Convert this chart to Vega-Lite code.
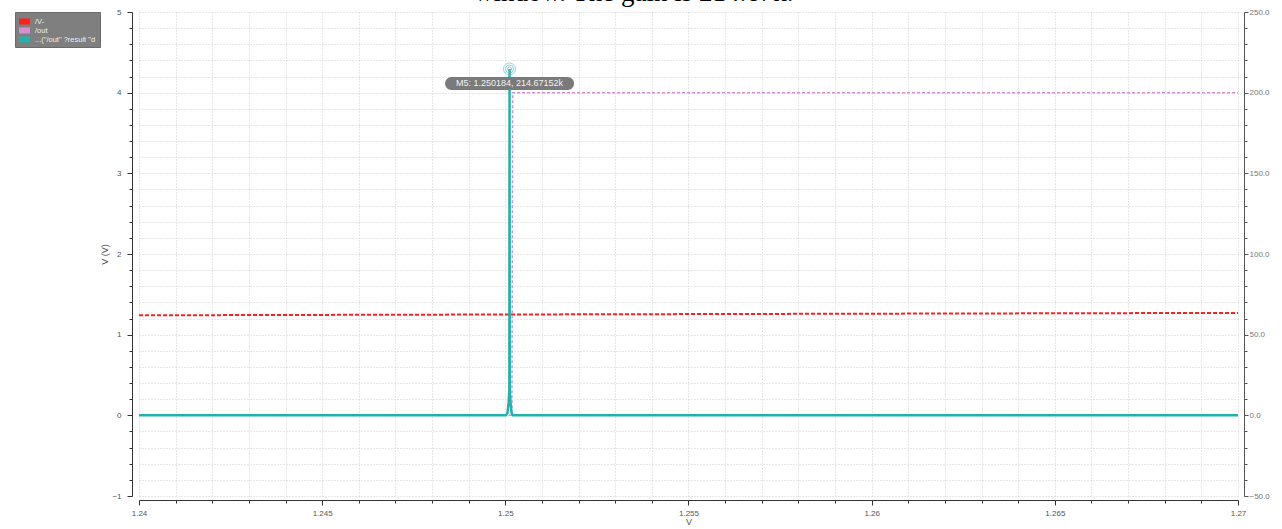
{
  "$schema": "https://vega.github.io/schema/vega-lite/v6.json",
  "autosize": {"type": "none"},
  "width": 1099,
  "height": 484,
  "padding": {"left": 139, "top": 12, "right": 44, "bottom": 33},
  "background": "white",
  "config": {"view": {"stroke": null}, "font": "Liberation Sans"},
  "title": {
    "text": "window. The gain is 214.67k.",
    "anchor": "start",
    "frame": "group",
    "dx": 335,
    "dy": 20,
    "font": "Liberation Serif",
    "fontSize": 27,
    "fontWeight": "normal",
    "color": "#000000",
    "baseline": "alphabetic",
    "offset": 0
  },
  "datasets": {
    "left": [
      {"series": "/V-", "x": 1.24, "v": 1.24},
      {"series": "/V-", "x": 1.245, "v": 1.245},
      {"series": "/V-", "x": 1.25, "v": 1.25},
      {"series": "/V-", "x": 1.255, "v": 1.255},
      {"series": "/V-", "x": 1.26, "v": 1.26},
      {"series": "/V-", "x": 1.265, "v": 1.265},
      {"series": "/V-", "x": 1.27, "v": 1.27},
      {"series": "/out", "x": 1.24, "v": 0},
      {"series": "/out", "x": 1.25018, "v": 0},
      {"series": "/out", "x": 1.2502, "v": 4.0},
      {"series": "/out", "x": 1.27, "v": 4.0}
    ],
    "right": [
      {"series": "...(\"/out\" ?result \"d", "x": 1.24, "v": 0},
      {"series": "...(\"/out\" ?result \"d", "x": 1.25002, "v": 0},
      {"series": "...(\"/out\" ?result \"d", "x": 1.25006, "v": 1.5},
      {"series": "...(\"/out\" ?result \"d", "x": 1.25009, "v": 8},
      {"series": "...(\"/out\" ?result \"d", "x": 1.25011, "v": 16},
      {"series": "...(\"/out\" ?result \"d", "x": 1.250115, "v": 214.67},
      {"series": "...(\"/out\" ?result \"d", "x": 1.25012, "v": 16},
      {"series": "...(\"/out\" ?result \"d", "x": 1.25014, "v": 8},
      {"series": "...(\"/out\" ?result \"d", "x": 1.25017, "v": 1.5},
      {"series": "...(\"/out\" ?result \"d", "x": 1.25021, "v": 0},
      {"series": "...(\"/out\" ?result \"d", "x": 1.27, "v": 0}
    ],
    "marker": [
      {"x": 1.250115, "v": 214.67, "label": "M5: 1.250184, 214.67152k"}
    ]
  },
  "encoding": {
    "x": {
      "field": "x",
      "type": "quantitative",
      "title": "V",
      "scale": {"domain": [1.24, 1.27], "nice": false, "zero": false},
      "axis": {
        "values": [1.24, 1.241, 1.242, 1.243, 1.244, 1.245, 1.246, 1.247, 1.248, 1.249, 1.25, 1.251, 1.252, 1.253, 1.254, 1.255, 1.256, 1.257, 1.258, 1.259, 1.26, 1.261, 1.262, 1.263, 1.264, 1.265, 1.266, 1.267, 1.268, 1.269, 1.27],
        "labelExpr": "abs(datum.value*200 - round(datum.value*200)) < 1e-6 ? format(datum.value, '~g') : ''",
        "tickSize": {"condition": {"test": "abs(datum.value*200 - round(datum.value*200)) < 1e-6", "value": 5}, "value": 3},
        "offset": 4,
        "grid": true,
        "gridDash": [1, 2],
        "gridColor": "#cfcfcf",
        "gridWidth": 1,
        "domainColor": "#333333",
        "tickColor": "#333333",
        "labelColor": "#555555",
        "labelFontSize": 8,
        "labelPadding": 4,
        "labelFlush": false,
        "labelOverlap": false,
        "titleColor": "#555555",
        "titleFontSize": 9,
        "titleFontWeight": "normal",
        "titlePadding": 0
      }
    }
  },
  "layer": [
    {
      "data": {"name": "left"},
      "encoding": {
        "y": {
          "field": "v",
          "type": "quantitative",
          "title": "V (V)",
          "scale": {"domain": [-1, 5], "nice": false, "zero": false},
          "axis": {
            "orient": "left",
            "values": [-1, -0.8, -0.6, -0.4, -0.2, 0, 0.2, 0.4, 0.6, 0.8, 1, 1.2, 1.4, 1.6, 1.8, 2, 2.2, 2.4, 2.6, 2.8, 3, 3.2, 3.4, 3.6, 3.8, 4, 4.2, 4.4, 4.6, 4.8, 5],
            "labelExpr": "abs(datum.value - round(datum.value)) < 1e-6 ? format(datum.value, 'd') : ''",
            "tickSize": {"condition": {"test": "abs(datum.value - round(datum.value)) < 1e-6", "value": 5}, "value": 3},
            "offset": 7,
            "grid": true,
            "gridDash": [1, 2],
            "gridColor": "#cfcfcf",
            "domainColor": "#333333",
            "tickColor": "#333333",
            "labelColor": "#555555",
            "labelFontSize": 8,
            "labelPadding": 6,
            "labelFlush": false,
            "labelOverlap": false,
            "titleColor": "#555555",
            "titleFontSize": 9,
            "titleFontWeight": "normal",
            "titlePadding": 2
          }
        }
      },
      "layer": [
        {
          "transform": [{"filter": "datum.series == '/V-'"}],
          "mark": {"type": "line", "strokeWidth": 2, "strokeDash": [4, 2]},
          "encoding": {
            "color": {
              "field": "series",
              "type": "nominal",
              "scale": {"domain": ["/V-", "/out", "...(\"/out\" ?result \"d"], "range": ["#ff1f1f", "#d690d2", "#1fb3ad"]},
              "legend": {
                "orient": "none",
                "legendX": -124,
                "legendY": 0,
                "title": null,
                "fillColor": "#7f7f7f",
                "strokeColor": "#6a6a6a",
                "padding": 4,
                "rowPadding": 0,
                "symbolType": "M-1,-0.55H1V0.55H-1Z",
                "symbolSize": 121,
                "symbolStrokeWidth": 0,
                "labelColor": "#eeeeee",
                "labelFontSize": 7.5,
                "labelFont": "Liberation Sans",
                "labelLimit": 0,
                "labelOffset": 5,
                "encode": {
                  "symbols": {
                    "update": {
                      "fill": {"scale": "color", "field": "value"},
                      "stroke": {"value": "transparent"},
                      "strokeDash": {"value": []},
                      "opacity": {"value": 1}
                    }
                  }
                }
              }
            }
          }
        },
        {
          "transform": [{"filter": "datum.series == '/out'"}],
          "mark": {"type": "line", "strokeWidth": 1.5, "strokeDash": [3, 2]},
          "encoding": {
            "color": {
              "field": "series",
              "type": "nominal",
              "scale": {"domain": ["/V-", "/out", "...(\"/out\" ?result \"d"], "range": ["#ff1f1f", "#d690d2", "#1fb3ad"]}
            }
          }
        }
      ]
    },
    {
      "encoding": {
        "y": {
          "field": "v",
          "type": "quantitative",
          "title": null,
          "scale": {"domain": [-50, 250], "nice": false, "zero": false},
          "axis": {
            "orient": "right",
            "values": [-50, -40, -30, -20, -10, 0, 10, 20, 30, 40, 50, 60, 70, 80, 90, 100, 110, 120, 130, 140, 150, 160, 170, 180, 190, 200, 210, 220, 230, 240, 250],
            "labelExpr": "datum.value % 50 == 0 ? format(datum.value, '.1f') : ''",
            "tickSize": {"condition": {"test": "datum.value % 50 == 0", "value": 4}, "value": 3},
            "offset": 6,
            "grid": false,
            "domainColor": "#555555",
            "tickColor": "#555555",
            "labelColor": "#777777",
            "labelFontSize": 8,
            "labelPadding": 1,
            "labelFlush": false,
            "labelOverlap": false
          }
        }
      },
      "layer": [
        {
          "data": {"name": "right"},
          "mark": {"type": "line", "strokeWidth": 2.5},
          "encoding": {
            "color": {
              "field": "series",
              "type": "nominal",
              "scale": {"domain": ["/V-", "/out", "...(\"/out\" ?result \"d"], "range": ["#ff1f1f", "#d690d2", "#1fb3ad"]}
            }
          }
        },
        {
          "data": {"name": "marker"},
          "mark": {"type": "point", "filled": false, "size": 144, "stroke": "#7ccaca", "strokeWidth": 0.8, "opacity": 1}
        },
        {
          "data": {"name": "marker"},
          "mark": {"type": "point", "filled": false, "size": 64, "stroke": "#6cc4c4", "strokeWidth": 0.8, "opacity": 1}
        },
        {
          "data": {"name": "marker"},
          "mark": {"type": "point", "filled": false, "size": 16, "stroke": "#5cbcbc", "strokeWidth": 0.8, "opacity": 1}
        },
        {
          "data": {"name": "marker"},
          "mark": {"type": "point", "shape": "M-58,8H58A6.5,6.5 0 0 1 58,21H-58A6.5,6.5 0 0 1 -58,8Z", "size": 4, "filled": true, "fill": "#7a7a7a", "strokeWidth": 0, "opacity": 1}
        },
        {
          "data": {"name": "marker"},
          "mark": {"type": "text", "dy": 14.5, "align": "center", "baseline": "middle", "fontSize": 9, "fill": "#f2f2f2", "font": "Liberation Sans"},
          "encoding": {"text": {"field": "label"}}
        }
      ]
    }
  ],
  "resolve": {"scale": {"y": "independent"}}
}
